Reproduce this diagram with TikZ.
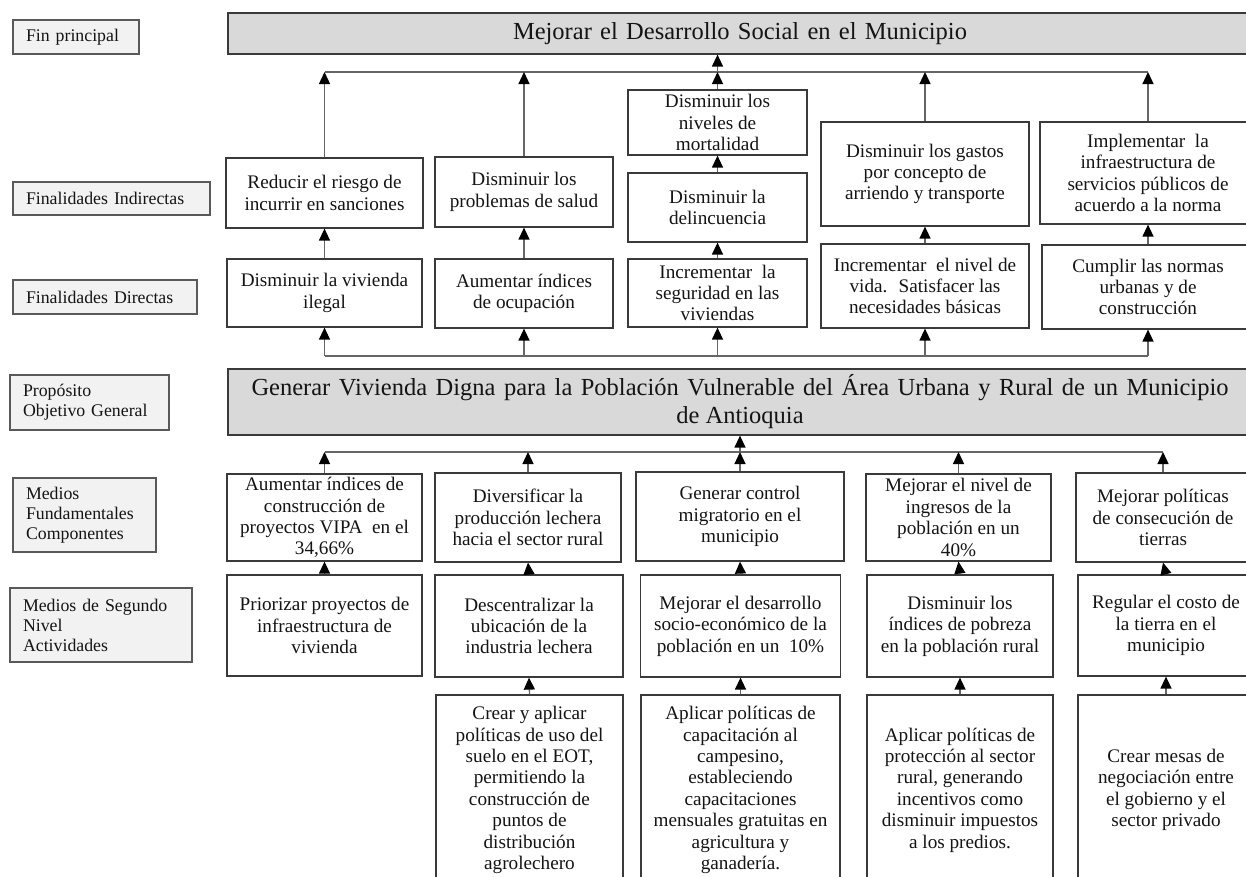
\documentclass[tikz,border=0pt]{standalone}
\usepackage{fontspec}
\setmainfont{Liberation Serif}
\usetikzlibrary{arrows.meta}

\definecolor{boxline}{HTML}{3A3A3A}
\definecolor{wirecol}{HTML}{666666}
\definecolor{titlefill}{HTML}{D9D9D9}
\definecolor{labelfill}{HTML}{F2F2F2}
\definecolor{labelline}{HTML}{595959}
\definecolor{inkcol}{HTML}{141414}

\tikzset{
  box/.style 2 args={draw=boxline, line width=1.2pt, fill=white, text=inkcol,
    minimum width=#1pt, minimum height=#2pt, inner sep=0pt, align=center,
    font=\fontsize{19.2}{21.4}\selectfont},
  titlebox/.style 2 args={draw=boxline, line width=1.2pt, fill=titlefill, text=inkcol,
    minimum width=#1pt, minimum height=#2pt, inner sep=0pt, align=center,
    font=\fontsize{24.5}{28}\selectfont},
  lbl/.style={draw=labelline, line width=1.2pt, fill=labelfill, text=inkcol,
    inner xsep=13pt, inner ysep=0pt, align=left,
    font=\fontsize{17.8}{20}\selectfont},
  wire/.style={draw=wirecol, line width=1.3pt},
  arr/.style={draw=wirecol, line width=1.3pt,
    -{Triangle[length=12pt,width=11pt,color=black]}},
}

\begin{document}
\begin{tikzpicture}[x=1pt,y=-1pt]
\useasboundingbox (0,0) rectangle (1246,876);
\fill[white] (0,0) rectangle (1246,876);
\clip (0,0) rectangle (1246,876);

% row labels
\node[lbl, text width=100pt, minimum height=34pt] (L1) at (76,37) {Fin principal};
\node[lbl, text width=171pt, minimum height=33pt] (L2) at (111.5,198.5) {Finalidades Indirectas};
\node[lbl, text width=158pt, minimum height=34pt] (L3) at (105,297) {Finalidades Directas};
\node[lbl, text width=133pt, minimum height=55pt] (L4) at (89.5,402.5) {Propósito\\Objetivo General};
\node[lbl, text width=117pt, minimum height=74pt] (L5) at (84.5,515) {Medios\\Fundamentales\\Componentes};
\node[lbl, text width=156pt, minimum height=74pt] (L6) at (101,625) {Medios de Segundo\\Nivel\\Actividades};

% main goals
\node[titlebox={1024}{41}] (T1) at (740,33.5)
  {\makebox[454pt][s]{Mejorar el Desarrollo Social en el Municipio}};
\node[titlebox={1024}{66}] (T2) at (740,402)
  {\makebox[977pt][s]{Generar Vivienda Digna para la Población Vulnerable del Área Urbana y Rural de un Municipio}\\de Antioquia};

% indirect ends
\node[box={197}{70}] (FI1) at (324.5,193) {Reducir el riesgo de\\incurrir en sanciones};
\node[box={178}{70}] (FI2) at (524,192) {Disminuir los\\problemas de salud};
\node[box={179}{65}] (FI3a) at (717.5,122.5) {Disminuir los\\niveles de\\mortalidad};
\node[box={179}{69}] (FI3b) at (717.5,207.5) {Disminuir la\\delincuencia};
\node[box={208}{104}] (FI4) at (925,174) {Disminuir los gastos\\por concepto de\\arriendo y transporte};
\node[box={216}{102}] (FI5) at (1148,173) {Implementar~ la\\infraestructura de\\servicios públicos de\\acuerdo a la norma};

% direct ends
\node[box={195}{68}] (FD1) at (324.5,293) {Disminuir la vivienda\\ilegal};
\node[box={178}{69}] (FD2) at (524,293.5) {Aumentar índices\\de ocupación};
\node[box={179}{68}] (FD3) at (717.5,293) {Incrementar~ la\\seguridad en las\\viviendas};
\node[box={208}{84}] (FD4) at (925,286) {Incrementar~ el nivel de\\vida.~ Satisfacer las\\necesidades básicas};
\node[box={212}{84}] (FD5) at (1148,287) {Cumplir las normas\\urbanas y de\\construcción};

% fundamental means
\node[box={195}{87}] (MF1) at (324.5,517.5) {Aumentar índices de\\construcción de\\proyectos VIPA~ en el\\34,66\%};
\node[box={186}{89}] (MF2) at (528,517.5) {Diversificar la\\producción lechera\\hacia el sector rural};
\node[box={208}{89}] (MF3) at (740,516.5) {Generar control\\migratorio en el\\municipio};
\node[box={185}{87}] (MF4) at (958.5,517.5) {Mejorar el nivel de\\ingresos de la\\población en un\\40\%};
\node[box={174}{89}] (MF5) at (1163,517.5) {Mejorar políticas\\de consecución de\\tierras};

% second level means
\node[box={195}{101}] (MS1) at (324.5,625.5) {Priorizar proyectos de\\infraestructura de\\vivienda};
\node[box={188}{102}] (MS2) at (529,626) {Descentralizar la\\ubicación de la\\industria lechera};
\node[box={200}{102}] (MS3) at (740.5,626) {Mejorar el desarrollo\\socio-económico de la\\población en un~ 10\%};
\node[box={186}{102}] (MS4) at (960,626) {Disminuir los\\índices de pobreza\\en la población rural};
\node[box={176}{101}] (MS5) at (1166,625.5) {Regular el costo de\\la tierra en el\\municipio};

% activities
\node[box={187}{190}] (MT2) at (529.5,790) {Crear y aplicar\\políticas de uso del\\suelo en el EOT,\\permitiendo la\\construcción de\\puntos de\\distribución\\agrolechero};
\node[box={199}{190}] (MT3) at (740.5,790) {Aplicar políticas de\\capacitación al\\campesino,\\estableciendo\\capacitaciones\\mensuales gratuitas en\\agricultura y\\ganadería.};
\node[box={186}{190}] (MT4) at (960,790) {Aplicar políticas de\\protección al sector\\rural, generando\\incentivos como\\disminuir impuestos\\a los predios.};
\node[box={176}{190}] (MT5) at (1166,790) {Crear mesas de\\negociación entre\\el gobierno y el\\sector privado};

% bus lines
\coordinate (busTop) at (717.5,72);
\coordinate (busMid) at (717.5,356);
\coordinate (busLow) at (740,452);

% upper tree: indirect ends to main goal
\draw[wire] (FI1.north |- busTop) -- (FI5.north |- busTop);
\foreach \n in {FI1,FI2,FI3a,FI4,FI5}
  \draw[arr] (\n.north) -- (\n.north |- busTop);
\draw[arr] (busTop) -- (busTop |- T1.south);
\draw[arr] (FI3b.north) -- (FI3a.south);

% direct ends to indirect ends
\draw[arr] (FD1.north) -- (FI1.south);
\draw[arr] (FD2.north) -- (FI2.south);
\draw[arr] (FD3.north) -- (FI3b.south);
\draw[arr] (FD4.north) -- (FI4.south);
\draw[arr] (FD5.north) -- (FI5.south);

% purpose feeding the direct ends
\draw[wire] (FD1.south |- busMid) -- (FD5.south |- busMid);
\foreach \n in {FD1,FD2,FD3,FD4,FD5}
  \draw[arr] (\n.south |- busMid) -- (\n.south);

% fundamental means to purpose
\draw[wire] (MF1.north |- busLow) -- (MF5.north |- busLow);
\foreach \n in {MF1,MF2,MF3,MF4,MF5}
  \draw[arr] (\n.north) -- (\n.north |- busLow);
\draw[arr] (busLow) -- (busLow |- T2.south);

% second level means to fundamental means
\foreach \n in {1,...,5}
  \draw[arr] (MS\n.north) -- (MF\n.south);

% activities to second level means
\foreach \n in {2,...,5}
  \draw[arr] (MT\n.north) -- (MS\n.south);

\end{tikzpicture}
\end{document}
